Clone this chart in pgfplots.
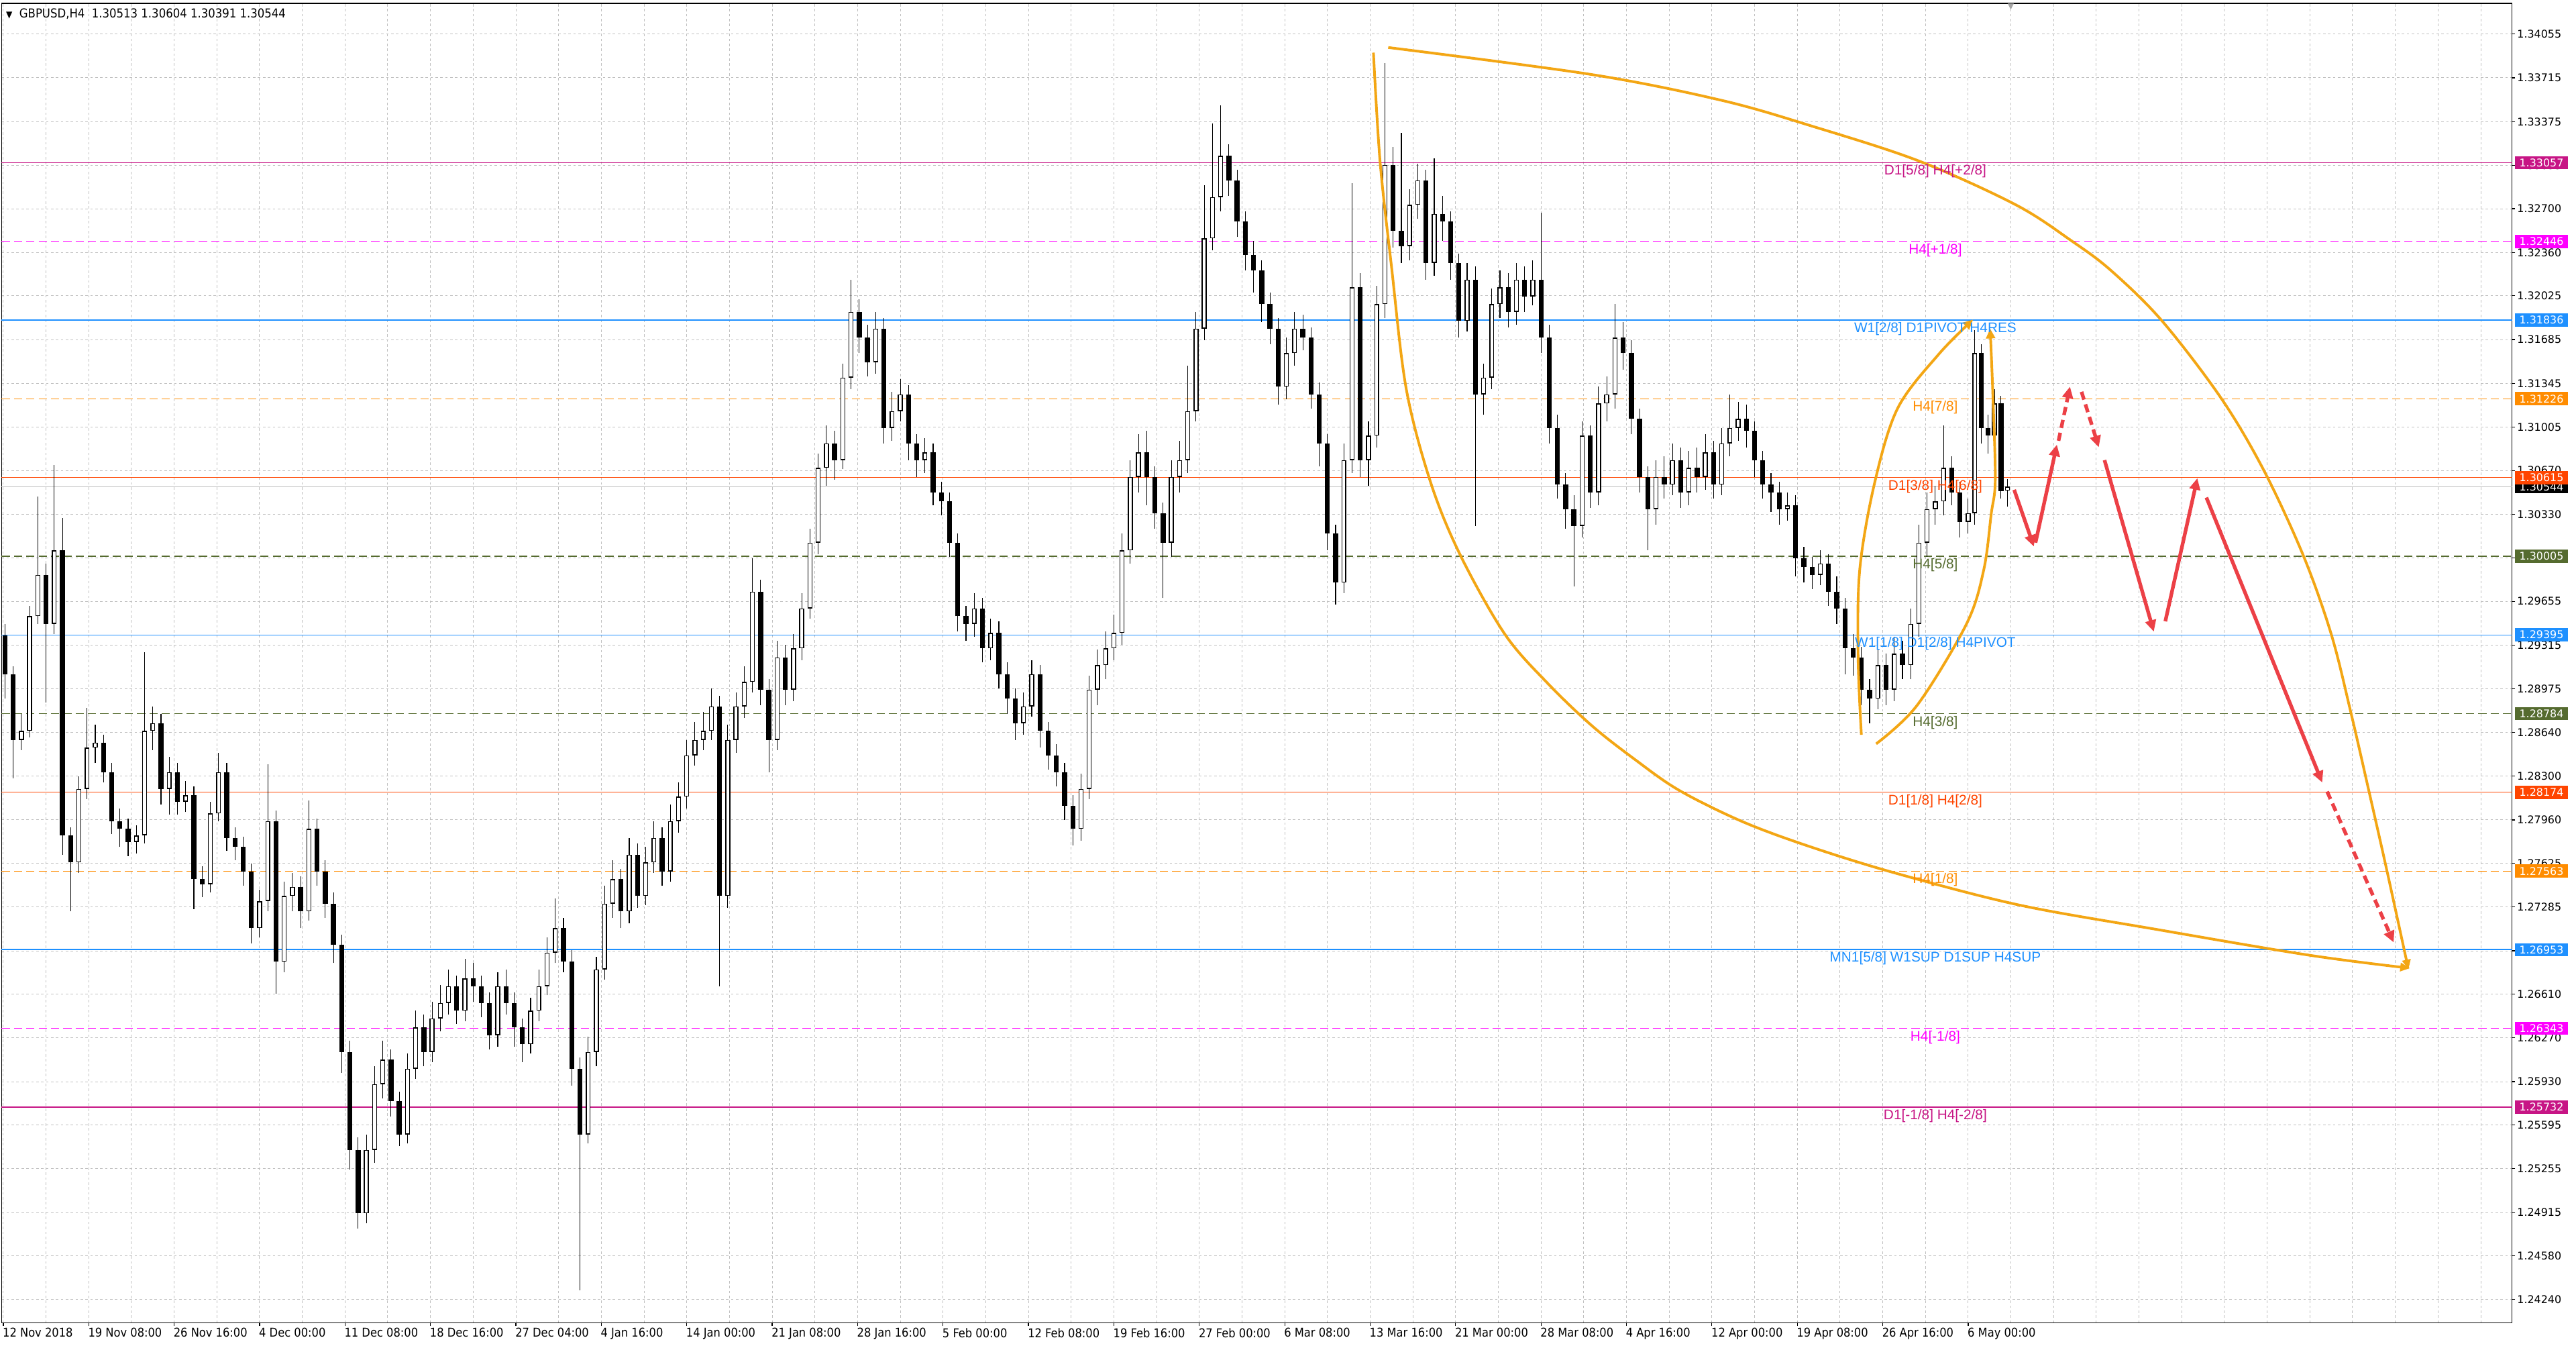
\documentclass[border=0pt]{standalone}
\usepackage{pgfplots}
\pgfplotsset{compat=1.18}
\usepackage{pgfplotstable}
\usepackage{fontspec}
\setmainfont{Liberation Sans}
\newfontfamily\pxfont{DejaVu Sans}
\newfontfamily\condfont{DejaVu Sans Condensed}
\usetikzlibrary{arrows.meta,calc}

\definecolor{lvMvr}{RGB}{199,21,133}
\definecolor{lvMag}{RGB}{255,0,255}
\definecolor{lvBlue}{RGB}{30,144,255}
\definecolor{lvOrange}{RGB}{255,140,0}
\definecolor{lvRed}{RGB}{255,69,0}
\definecolor{lvOlive}{RGB}{85,107,47}
\definecolor{gridc}{RGB}{192,192,192}
\definecolor{curvec}{RGB}{243,166,20}
\definecolor{arrowc}{RGB}{236,64,70}

\tikzset{
  lbl/.style={anchor=north, inner sep=0pt, yshift=-1.2pt, font=\fontsize{8.5}{10}\selectfont},
  dsh/.style={dash pattern=on 5pt off 2.5pt},
  pl/.style={anchor=west, inner sep=0pt, minimum width=32.5pt, minimum height=8pt,
    text=white, font=\pxfont\fontsize{6.5}{7}\selectfont, xshift=1.5pt},
  redarr/.style={arrowc, line width=2.2pt, -{Triangle[length=7pt,width=6.5pt]}},
  orc/.style={curvec, line width=1.6pt, smooth, tension=0.55},
}

% H4 candles, x in chart px, prices
\pgfplotstableread{
x o h l c
3 1.2939 1.2948 1.2890 1.2909
8 1.2909 1.2915 1.2828 1.2858
13 1.2858 1.2878 1.2850 1.2865
18 1.2865 1.2962 1.2860 1.2954
23 1.2954 1.3047 1.2948 1.2986
28 1.2986 1.2995 1.2887 1.2948
33 1.2948 1.3071 1.2940 1.3005
38 1.3005 1.3030 1.2769 1.2784
43 1.2784 1.2790 1.2725 1.2763
48 1.2763 1.2830 1.2755 1.2820
53 1.2820 1.2883 1.2812 1.2852
58 1.2852 1.2870 1.2840 1.2856
63 1.2856 1.2862 1.2825 1.2833
68 1.2833 1.2840 1.2785 1.2795
73 1.2795 1.2805 1.2775 1.2789
78 1.2789 1.2797 1.2768 1.2779
83 1.2779 1.2792 1.2770 1.2784
88 1.2784 1.2926 1.2778 1.2865
93 1.2865 1.2884 1.2850 1.2871
98 1.2871 1.2878 1.2808 1.2820
103 1.2820 1.2845 1.2800 1.2833
108 1.2833 1.2840 1.2800 1.2810
113 1.2810 1.2826 1.2802 1.2815
118 1.2815 1.2822 1.2727 1.2750
123 1.2750 1.2760 1.2736 1.2746
128 1.2746 1.2810 1.2740 1.2801
133 1.2801 1.2848 1.2795 1.2833
138 1.2833 1.2840 1.2772 1.2782
143 1.2782 1.2790 1.2765 1.2775
148 1.2775 1.2783 1.2745 1.2756
153 1.2756 1.2762 1.2700 1.2712
158 1.2712 1.2742 1.2705 1.2733
163 1.2733 1.2839 1.2725 1.2795
168 1.2795 1.2803 1.2661 1.2686
173 1.2686 1.2748 1.2678 1.2737
178 1.2737 1.2755 1.2725 1.2744
183 1.2744 1.2752 1.2712 1.2725
188 1.2725 1.2811 1.2718 1.2789
193 1.2789 1.2797 1.2745 1.2756
198 1.2756 1.2765 1.2720 1.2731
203 1.2731 1.2740 1.2685 1.2699
208 1.2699 1.2707 1.2600 1.2616
213 1.2616 1.2625 1.2525 1.2540
218 1.2540 1.2550 1.2479 1.2491
223 1.2491 1.2552 1.2483 1.2540
228 1.2540 1.2605 1.2530 1.2591
233 1.2591 1.2625 1.2580 1.2610
238 1.2610 1.2618 1.2566 1.2578
243 1.2578 1.2585 1.2543 1.2552
248 1.2552 1.2615 1.2545 1.2603
253 1.2603 1.2648 1.2595 1.2635
258 1.2635 1.2645 1.2605 1.2616
263 1.2616 1.2655 1.2608 1.2642
268 1.2642 1.2668 1.2632 1.2654
273 1.2654 1.2680 1.2645 1.2667
278 1.2667 1.2675 1.2638 1.2648
283 1.2648 1.2688 1.2640 1.2673
288 1.2673 1.2685 1.2655 1.2667
293 1.2667 1.2675 1.2643 1.2654
298 1.2654 1.2662 1.2618 1.2629
303 1.2629 1.2678 1.2620 1.2667
308 1.2667 1.2680 1.2645 1.2654
313 1.2654 1.2662 1.2620 1.2635
318 1.2635 1.2642 1.2608 1.2622
323 1.2622 1.2658 1.2615 1.2648
328 1.2648 1.2680 1.2640 1.2667
333 1.2667 1.2705 1.2660 1.2693
338 1.2693 1.2735 1.2685 1.2712
343 1.2712 1.2720 1.2678 1.2686
348 1.2686 1.2695 1.2590 1.2603
353 1.2603 1.2612 1.2431 1.2552
358 1.2552 1.2628 1.2545 1.2616
363 1.2616 1.2690 1.2605 1.2680
368 1.2680 1.2745 1.2672 1.2731
373 1.2731 1.2765 1.2720 1.2750
378 1.2750 1.2758 1.2712 1.2725
383 1.2725 1.2782 1.2716 1.2769
388 1.2769 1.2778 1.2728 1.2737
393 1.2737 1.2775 1.2730 1.2763
398 1.2763 1.2795 1.2755 1.2782
403 1.2782 1.2790 1.2745 1.2756
408 1.2756 1.2808 1.2748 1.2795
413 1.2795 1.2825 1.2786 1.2814
418 1.2814 1.2858 1.2805 1.2846
423 1.2846 1.2872 1.2838 1.2858
428 1.2858 1.2880 1.2850 1.2865
433 1.2865 1.2898 1.2858 1.2884
438 1.2884 1.2892 1.2667 1.2737
443 1.2737 1.2870 1.2728 1.2858
448 1.2858 1.2895 1.2848 1.2884
453 1.2884 1.2915 1.2875 1.2903
458 1.2903 1.2999 1.2895 1.2973
463 1.2973 1.2982 1.2885 1.2897
468 1.2897 1.2905 1.2833 1.2858
473 1.2858 1.2935 1.2850 1.2922
478 1.2922 1.2932 1.2885 1.2897
483 1.2897 1.2940 1.2888 1.2929
488 1.2929 1.2972 1.2920 1.2960
493 1.2960 1.3022 1.2952 1.3011
498 1.3011 1.3080 1.3002 1.3069
503 1.3069 1.3102 1.3055 1.3088
508 1.3088 1.3098 1.3060 1.3075
513 1.3075 1.3150 1.3068 1.3139
518 1.3139 1.3215 1.3130 1.3190
523 1.3190 1.3200 1.3158 1.3170
528 1.3170 1.3180 1.3140 1.3151
533 1.3151 1.3190 1.3142 1.3177
538 1.3177 1.3185 1.3088 1.3100
543 1.3100 1.3128 1.3090 1.3113
548 1.3113 1.3138 1.3105 1.3126
553 1.3126 1.3133 1.3075 1.3088
558 1.3088 1.3095 1.3062 1.3075
563 1.3075 1.3092 1.3065 1.3081
568 1.3081 1.3088 1.3040 1.3050
573 1.3050 1.3058 1.3032 1.3043
578 1.3043 1.3050 1.3000 1.3011
583 1.3011 1.3018 1.2942 1.2954
588 1.2954 1.2962 1.2935 1.2948
593 1.2948 1.2972 1.2938 1.2960
598 1.2960 1.2968 1.2918 1.2929
603 1.2929 1.2952 1.2920 1.2941
608 1.2941 1.2950 1.2898 1.2909
613 1.2909 1.2918 1.2878 1.2890
618 1.2890 1.2898 1.2858 1.2871
623 1.2871 1.2895 1.2862 1.2884
628 1.2884 1.2920 1.2876 1.2909
633 1.2909 1.2916 1.2852 1.2865
638 1.2865 1.2872 1.2835 1.2846
643 1.2846 1.2855 1.2822 1.2833
648 1.2833 1.2840 1.2796 1.2807
653 1.2807 1.2815 1.2776 1.2789
658 1.2789 1.2832 1.2780 1.2820
663 1.2820 1.2908 1.2812 1.2897
668 1.2897 1.2928 1.2885 1.2916
673 1.2916 1.2942 1.2905 1.2929
678 1.2929 1.2955 1.2920 1.2941
683 1.2941 1.3018 1.2932 1.3005
688 1.3005 1.3075 1.2995 1.3062
693 1.3062 1.3095 1.3050 1.3081
698 1.3081 1.3098 1.3040 1.3062
703 1.3062 1.3070 1.3022 1.3034
708 1.3034 1.3042 1.2968 1.3011
713 1.3011 1.3075 1.3000 1.3062
718 1.3062 1.3090 1.3050 1.3075
723 1.3075 1.3148 1.3065 1.3113
728 1.3113 1.3190 1.3105 1.3177
733 1.3177 1.3288 1.3168 1.3247
738 1.3247 1.3336 1.3238 1.3279
743 1.3279 1.3350 1.3268 1.3311
748 1.3311 1.3320 1.3280 1.3292
753 1.3292 1.3300 1.3248 1.3260
758 1.3260 1.3268 1.3222 1.3234
763 1.3234 1.3245 1.3205 1.3222
768 1.3222 1.3230 1.3182 1.3196
773 1.3196 1.3205 1.3165 1.3177
778 1.3177 1.3185 1.3118 1.3132
783 1.3132 1.3170 1.3122 1.3158
788 1.3158 1.3190 1.3148 1.3177
793 1.3177 1.3188 1.3160 1.3170
798 1.3170 1.3178 1.3115 1.3126
803 1.3126 1.3135 1.3070 1.3088
808 1.3088 1.3095 1.3005 1.3018
813 1.3018 1.3025 1.2963 1.2980
818 1.2980 1.3088 1.2972 1.3075
823 1.3075 1.3290 1.3065 1.3209
828 1.3209 1.3220 1.3062 1.3075
833 1.3075 1.3105 1.3055 1.3094
838 1.3094 1.3210 1.3085 1.3196
843 1.3196 1.3383 1.3185 1.3304
848 1.3304 1.3318 1.3240 1.3253
853 1.3253 1.3329 1.3228 1.3241
858 1.3241 1.3285 1.3230 1.3273
863 1.3273 1.3305 1.3262 1.3292
868 1.3292 1.3300 1.3215 1.3228
873 1.3228 1.3309 1.3218 1.3266
878 1.3266 1.3280 1.3245 1.3260
883 1.3260 1.3268 1.3215 1.3228
888 1.3228 1.3235 1.3170 1.3183
893 1.3183 1.3228 1.3175 1.3215
898 1.3215 1.3225 1.3024 1.3126
903 1.3126 1.3150 1.3110 1.3139
908 1.3139 1.3208 1.3130 1.3196
913 1.3196 1.3222 1.3185 1.3209
918 1.3209 1.3220 1.3178 1.3190
923 1.3190 1.3228 1.3180 1.3215
928 1.3215 1.3225 1.3190 1.3202
933 1.3202 1.3230 1.3195 1.3215
938 1.3215 1.3267 1.3158 1.3170
943 1.3170 1.3180 1.3088 1.3100
948 1.3100 1.3110 1.3045 1.3056
953 1.3056 1.3065 1.3022 1.3037
958 1.3037 1.3048 1.2977 1.3024
963 1.3024 1.3105 1.3015 1.3094
968 1.3094 1.3102 1.3038 1.3050
973 1.3050 1.3132 1.3040 1.3119
978 1.3119 1.3140 1.3105 1.3126
983 1.3126 1.3196 1.3115 1.3170
988 1.3170 1.3182 1.3145 1.3158
993 1.3158 1.3168 1.3095 1.3107
998 1.3107 1.3115 1.3050 1.3062
1003 1.3062 1.3070 1.3005 1.3037
1008 1.3037 1.3075 1.3025 1.3062
1013 1.3062 1.3078 1.3045 1.3056
1018 1.3056 1.3088 1.3048 1.3075
1023 1.3075 1.3085 1.3038 1.3050
1028 1.3050 1.3082 1.3040 1.3069
1033 1.3069 1.3085 1.3050 1.3062
1038 1.3062 1.3095 1.3052 1.3081
1043 1.3081 1.3090 1.3045 1.3056
1048 1.3056 1.3100 1.3048 1.3088
1053 1.3088 1.3126 1.3078 1.3100
1058 1.3100 1.3120 1.3090 1.3107
1063 1.3107 1.3118 1.3085 1.3098
1068 1.3098 1.3105 1.3062 1.3075
1073 1.3075 1.3082 1.3045 1.3056
1078 1.3056 1.3065 1.3035 1.3050
1083 1.3050 1.3058 1.3025 1.3037
1088 1.3037 1.3050 1.3028 1.3040
1093 1.3040 1.3048 1.2985 1.2999
1098 1.2999 1.3008 1.2980 1.2992
1103 1.2992 1.3000 1.2975 1.2986
1108 1.2986 1.3005 1.2978 1.2995
1113 1.2995 1.3002 1.2962 1.2973
1118 1.2973 1.2985 1.2948 1.2960
1123 1.2960 1.2968 1.2909 1.2929
1128 1.2929 1.2940 1.2908 1.2922
1133 1.2922 1.2930 1.2885 1.2897
1138 1.2897 1.2905 1.2871 1.2890
1143 1.2890 1.2928 1.2882 1.2916
1148 1.2916 1.2925 1.2885 1.2897
1153 1.2897 1.2938 1.2888 1.2925
1158 1.2925 1.2935 1.2905 1.2916
1163 1.2916 1.2960 1.2905 1.2948
1168 1.2948 1.3025 1.2938 1.3011
1173 1.3011 1.3050 1.3000 1.3037
1178 1.3037 1.3055 1.3025 1.3043
1183 1.3043 1.3102 1.3032 1.3069
1188 1.3069 1.3078 1.3040 1.3050
1193 1.3050 1.3058 1.3015 1.3027
1198 1.3027 1.3045 1.3018 1.3034
1202 1.3034 1.3176 1.3025 1.3158
1206 1.3158 1.3165 1.3088 1.3100
1210 1.3100 1.3110 1.3080 1.3094
1214 1.3094 1.3130 1.3085 1.3119
1218 1.3119 1.3125 1.3045 1.3051
1222 1.30513 1.30604 1.30391 1.30544
}\candles

\begin{document}
\begin{tikzpicture}
\begin{axis}[
    name=ax,
    scale only axis,
    width=1528pt, height=803pt,
    xmin=1, xmax=1529,
    ymin=1.24060, ymax=1.34293,
    enlargelimits=false,
    clip=false,
    axis line style={black, line width=0.6pt},
    xtick={2,54,...,1198},
    xticklabels={12 Nov 2018,19 Nov 08:00,26 Nov 16:00,4 Dec 00:00,11 Dec 08:00,18 Dec 16:00,27 Dec 04:00,4 Jan 16:00,14 Jan 00:00,21 Jan 08:00,28 Jan 16:00,5 Feb 00:00,12 Feb 08:00,19 Feb 16:00,27 Feb 00:00,6 Mar 08:00,13 Mar 16:00,21 Mar 00:00,28 Mar 08:00,4 Apr 16:00,12 Apr 00:00,19 Apr 08:00,26 Apr 16:00,6 May 00:00},
    minor xtick={2,28,...,1528},
    ytick={1.34055,1.33715,1.33375,1.33035,1.32700,1.32360,1.32025,1.31685,1.31345,1.31005,1.30670,1.30330,1.29990,1.29655,1.29315,1.28975,1.28640,1.28300,1.27960,1.27625,1.27285,1.26945,1.26610,1.26270,1.25930,1.25595,1.25255,1.24915,1.24580,1.24240},
    yticklabels={1.34055,1.33715,1.33375,1.33035,1.32700,1.32360,1.32025,1.31685,1.31345,1.31005,1.30670,1.30330,1.29990,1.29655,1.29315,1.28975,1.28640,1.28300,1.27960,1.27625,1.27285,1.26945,1.26610,1.26270,1.25930,1.25595,1.25255,1.24915,1.24580,1.24240},
    xtick pos=left, ytick pos=right, yticklabel pos=right,
    tick align=outside,
    major tick length=2pt, minor tick length=0pt,
    tick style={black, line width=0.5pt},
    grid=both,
    major grid style={gridc, dash pattern=on 1.5pt off 1.5pt, line width=0.4pt},
    minor grid style={gridc, dash pattern=on 1.5pt off 1.5pt, line width=0.4pt},
    xticklabel style={font=\condfont\fontsize{7.4}{8}\selectfont, anchor=north west, xshift=-1.5pt, inner sep=1pt},
    yticklabel style={font=\pxfont\fontsize{6.5}{7}\selectfont, anchor=west, inner sep=1pt},
]
% level lines
\addplot[lvMvr, line width=0.5pt] coordinates {(1,1.33057) (1529,1.33057)};
\addplot[lvMag, line width=0.5pt, dsh] coordinates {(1,1.32446) (1529,1.32446)};
\addplot[lvBlue, line width=0.5pt] coordinates {(1,1.31836) (1529,1.31836)};
\addplot[lvOrange, line width=0.5pt, dsh] coordinates {(1,1.31226) (1529,1.31226)};
\addplot[lvRed, line width=0.5pt] coordinates {(1,1.30615) (1529,1.30615)};
\addplot[gridc, line width=0.6pt] coordinates {(1,1.30544) (1529,1.30544)};
\addplot[lvOlive, line width=0.5pt, dsh] coordinates {(1,1.30005) (1529,1.30005)};
\addplot[lvBlue, line width=0.5pt] coordinates {(1,1.29395) (1529,1.29395)};
\addplot[lvOlive, line width=0.5pt, dsh] coordinates {(1,1.28784) (1529,1.28784)};
\addplot[lvRed, line width=0.5pt] coordinates {(1,1.28174) (1529,1.28174)};
\addplot[lvOrange, line width=0.5pt, dsh] coordinates {(1,1.27563) (1529,1.27563)};
\addplot[lvBlue, line width=0.8pt] coordinates {(1,1.26953) (1529,1.26953)};
\addplot[lvMag, line width=0.5pt, dsh] coordinates {(1,1.26343) (1529,1.26343)};
\addplot[lvMvr, line width=0.5pt] coordinates {(1,1.25732) (1529,1.25732)};

% candles: wicks, bodies, hollow bull bodies
\addplot[draw=none, mark=none, error bars/.cd, y dir=plus, y explicit, error mark=none,
    error bar style={draw=black, solid, line width=0.45pt}]
    table[x=x, y=l, y error plus expr={\thisrow{h}-\thisrow{l}}] {\candles};
\addplot[draw=none, mark=none, error bars/.cd, y dir=plus, y explicit, error mark=none,
    error bar style={draw=black, solid, line width=3pt}]
    table[x=x, y expr={min(\thisrow{o},\thisrow{c})}, y error plus expr={abs(\thisrow{c}-\thisrow{o})}] {\candles};
\addplot[draw=none, mark=none, restrict expr to domain={\thisrow{c}-\thisrow{o}}{0.0002:1},
    error bars/.cd, y dir=plus, y explicit, error mark=none,
    error bar style={draw=white, solid, line width=1.8pt}]
    table[x=x, y expr={\thisrow{o}+0.00008}, y error plus expr={\thisrow{c}-\thisrow{o}-0.00016}] {\candles};

% orange drawing
\addplot[orc, -{Triangle[length=6pt,width=5pt]}] coordinates {
 (845,1.3395) (969,1.3374) (1048,1.3354) (1103,1.3334) (1168,1.3307) (1227,1.3273)
 (1261,1.3245) (1285,1.3222) (1316,1.3183) (1352,1.3123) (1378,1.3067) (1402,1.3001)
 (1419,1.2940) (1431,1.2879) (1442,1.2818) (1453,1.2756) (1466,1.2680)};
\addplot[orc, -{Triangle[length=6pt,width=5pt]}] coordinates {
 (836,1.3391) (840,1.3307) (847,1.3225) (856,1.3130) (871,1.3057) (889,1.3001)
 (916,1.2940) (942,1.2902) (969,1.2869) (995,1.2843) (1022,1.2819) (1060,1.2795)
 (1100,1.2776) (1153,1.2755) (1229,1.2730) (1313,1.2711) (1406,1.2691) (1467,1.2681)};
\addplot[orc, -{Triangle[length=6pt,width=5.5pt]}] coordinates {
 (1133,1.2862) (1131,1.2922) (1132,1.2990) (1141,1.3057) (1155,1.3115) (1180,1.3157) (1201,1.3184)};
\addplot[orc, -{Triangle[length=6pt,width=5.5pt]}] coordinates {
 (1142,1.2855) (1167,1.2885) (1197,1.2948) (1207.5,1.2990) (1212,1.3033) (1214.5,1.3060) (1213,1.3127) (1211.4,1.3177)};

% red forecast arrows
\addplot[redarr] coordinates {(1226,1.3052) (1238,1.3008)};
\addplot[redarr] coordinates {(1239,1.3011) (1252,1.3087)};
\addplot[redarr, dash pattern=on 5pt off 3pt] coordinates {(1253,1.3090) (1260,1.3132)};
\addplot[redarr, dash pattern=on 5pt off 3pt] coordinates {(1267,1.3128) (1277.5,1.3085)};
\addplot[redarr] coordinates {(1281,1.3075) (1311,1.2942)};
\addplot[redarr] coordinates {(1318,1.2950) (1337.5,1.3061)};
\addplot[redarr] coordinates {(1343,1.3046) (1413.5,1.2825)};
\addplot[redarr, dash pattern=on 5pt off 3pt] coordinates {(1416.5,1.2818) (1457,1.2701)};

% level labels
\node[lbl, text=lvMvr] at (axis cs:1178,1.33057) {D1[5/8] H4[+2/8]};
\node[lbl, text=lvMag] at (axis cs:1178,1.32446) {H4[+1/8]};
\node[lbl, text=lvBlue] at (axis cs:1178,1.31836) {W1[2/8] D1PIVOT H4RES};
\node[lbl, text=lvOrange] at (axis cs:1178,1.31226) {H4[7/8]};
\node[lbl, text=lvRed] at (axis cs:1178,1.30615) {D1[3/8] H4[6/8]};
\node[lbl, text=lvOlive] at (axis cs:1178,1.30005) {H4[5/8]};
\node[lbl, text=lvBlue] at (axis cs:1178,1.29395) {W1[1/8] D1[2/8] H4PIVOT};
\node[lbl, text=lvOlive] at (axis cs:1178,1.28784) {H4[3/8]};
\node[lbl, text=lvRed] at (axis cs:1178,1.28174) {D1[1/8] H4[2/8]};
\node[lbl, text=lvOrange] at (axis cs:1178,1.27563) {H4[1/8]};
\node[lbl, text=lvBlue] at (axis cs:1178,1.26953) {MN1[5/8] W1SUP D1SUP H4SUP};
\node[lbl, text=lvMag] at (axis cs:1178,1.26343) {H4[-1/8]};
\node[lbl, text=lvMvr] at (axis cs:1178,1.25732) {D1[-1/8] H4[-2/8]};

% chart shift marker
\node[anchor=north, inner sep=0pt, text=gray!70, font=\pxfont\fontsize{5}{5}\selectfont] at (axis cs:1224,1.34293) {▼};

\coordinate (R1) at (axis cs:1529,1.33057);
\coordinate (R2) at (axis cs:1529,1.32446);
\coordinate (R3) at (axis cs:1529,1.31836);
\coordinate (R4) at (axis cs:1529,1.31226);
\coordinate (R5) at (axis cs:1529,1.30615);
\coordinate (R0) at (axis cs:1529,1.30544);
\coordinate (R6) at (axis cs:1529,1.30005);
\coordinate (R7) at (axis cs:1529,1.29395);
\coordinate (R8) at (axis cs:1529,1.28784);
\coordinate (R9) at (axis cs:1529,1.28174);
\coordinate (R10) at (axis cs:1529,1.27563);
\coordinate (R11) at (axis cs:1529,1.26953);
\coordinate (R12) at (axis cs:1529,1.26343);
\coordinate (R13) at (axis cs:1529,1.25732);
\end{axis}

\node[pl, fill=lvMvr] at (R1) {1.33057};
\node[pl, fill=lvMag] at (R2) {1.32446};
\node[pl, fill=lvBlue] at (R3) {1.31836};
\node[pl, fill=lvOrange] at (R4) {1.31226};
\node[pl, fill=black] at (R0) {1.30544};
\node[pl, fill=lvRed] at (R5) {1.30615};
\node[pl, fill=lvOlive] at (R6) {1.30005};
\node[pl, fill=lvBlue] at (R7) {1.29395};
\node[pl, fill=lvOlive] at (R8) {1.28784};
\node[pl, fill=lvRed] at (R9) {1.28174};
\node[pl, fill=lvOrange] at (R10) {1.27563};
\node[pl, fill=lvBlue] at (R11) {1.26953};
\node[pl, fill=lvMag] at (R12) {1.26343};
\node[pl, fill=lvMvr] at (R13) {1.25732};

\node[anchor=west, inner sep=0pt, font=\condfont\fontsize{7.5}{8}\selectfont]
  at ($(ax.north west)+(2.5pt,-6.5pt)$) {{\fontsize{5.5}{6}\selectfont ▼}\ \ GBPUSD,H4\ \ 1.30513 1.30604 1.30391 1.30544};

\pgfresetboundingbox
\path[use as bounding box] ($(ax.south west)+(-1pt,-14pt)$) rectangle ($(ax.north east)+(39pt,2pt)$);
\end{tikzpicture}
\end{document}
